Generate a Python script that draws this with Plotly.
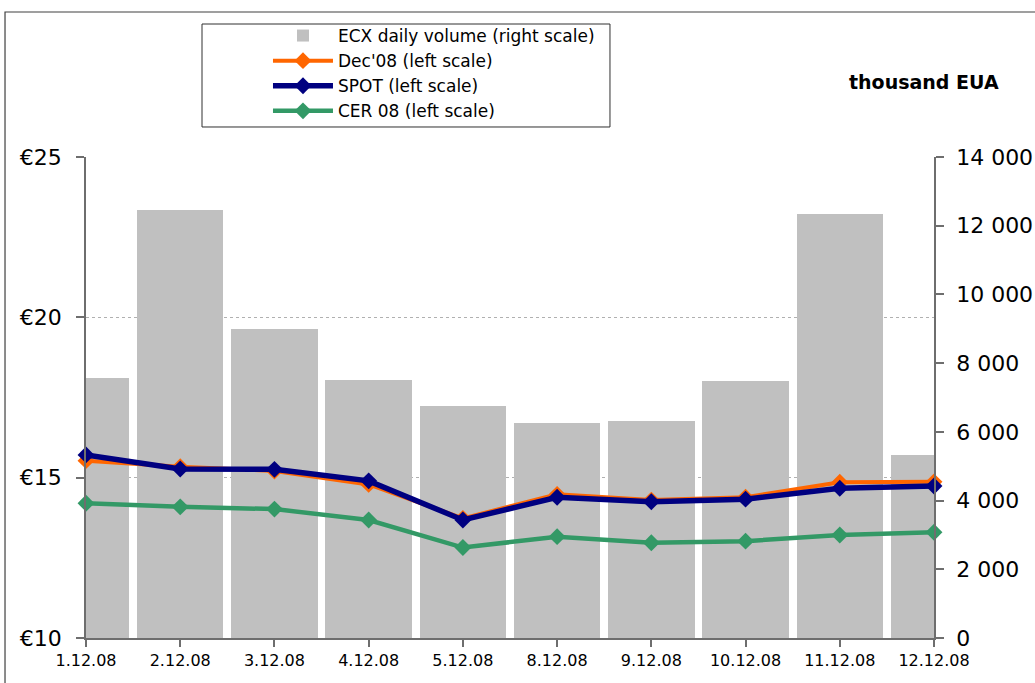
import plotly.graph_objects as go

# Trading days
dates = ["1.12.08", "2.12.08", "3.12.08", "4.12.08", "5.12.08",
         "8.12.08", "9.12.08", "10.12.08", "11.12.08", "12.12.08"]

# ECX daily volume, thousand EUA (right scale)
ecx_volume = [7570, 12450, 8990, 7510, 6750, 6260, 6310, 7480, 12340, 5330]

# Prices, EUR/t (left scale)
dec08 = [15.53, 15.34, 15.21, 14.79, 13.73, 14.48, 14.30, 14.39, 14.86, 14.87]
spot = [15.71, 15.27, 15.26, 14.90, 13.68, 14.39, 14.25, 14.33, 14.67, 14.74]
cer08 = [14.20, 14.09, 14.02, 13.68, 12.82, 13.16, 12.97, 13.02, 13.21, 13.30]

FONT = "DejaVu Sans"
AXIS_COL = "#6e6e6e"

fig = go.Figure()

fig.add_trace(go.Bar(
    x=dates, y=ecx_volume, name="ECX daily volume (right scale)",
    marker=dict(color="#c0c0c0", line=dict(width=0)),
    width=0.917, yaxis="y",
))

line_series = [
    ("Dec'08 (left scale)", dec08, "#ff6600", 4),
    ("SPOT (left scale)", spot, "#000080", 5.5),
    ("CER 08 (left scale)", cer08, "#339966", 4.5),
]
for name, vals, col, w in line_series:
    fig.add_trace(go.Scatter(
        x=dates, y=vals, name=name, mode="lines+markers",
        line=dict(color=col, width=w),
        marker=dict(symbol="diamond", size=13, color=col),
        yaxis="y2", cliponaxis=False,
    ))

fig.update_layout(
    width=1035, height=683,
    margin=dict(l=86, r=101, t=157, b=45, autoexpand=False),
    paper_bgcolor="white", plot_bgcolor="white",
    font=dict(family=FONT, color="black"),
    separators=". ",
    bargap=0,
    showlegend=True,
    legend=dict(
        x=0.2146, y=1.2890, xanchor="left", yanchor="top",
        bgcolor="rgba(0,0,0,0)", borderwidth=0, itemwidth=60,
        font=dict(size=17, family=FONT), traceorder="normal",
    ),
    xaxis=dict(
        type="category", range=[0, 9], automargin=False,
        showline=True, linecolor=AXIS_COL, linewidth=1.5,
        ticks="outside", ticklen=7, tickcolor=AXIS_COL, tickwidth=1.5,
        tickfont=dict(size=16), showgrid=False, zeroline=False,
    ),
    yaxis=dict(
        side="right", range=[0, 14000], dtick=2000, tickformat=",d",
        automargin=False,
        showline=True, linecolor=AXIS_COL, linewidth=1.5,
        ticks="outside", ticklen=8, tickcolor=AXIS_COL, tickwidth=1.5,
        tickfont=dict(size=22), showgrid=False, zeroline=False,
        ticklabelstandoff=8,
    ),
    yaxis2=dict(
        overlaying="y", side="left", range=[10, 25], dtick=5,
        tickprefix="€", automargin=False,
        showline=True, linecolor=AXIS_COL, linewidth=1.5,
        ticks="outside", ticklen=8, tickcolor=AXIS_COL, tickwidth=1.5,
        tickfont=dict(size=22), zeroline=False, ticklabelstandoff=10,
        showgrid=True, gridcolor="#b0b0b0", gridwidth=1, griddash="dot",
    ),
    shapes=[
        # outer chart frame
        dict(type="rect", xref="paper", yref="paper",
             x0=-0.0955, x1=1.25, y0=-0.25, y1=1.3015,
             line=dict(color="#404040", width=1.2), fillcolor="rgba(0,0,0,0)"),
        # legend frame
        dict(type="rect", xref="paper", yref="paper",
             x0=0.1368, x1=0.6179, y0=1.0624, y1=1.2765,
             line=dict(color="#303030", width=1), fillcolor="rgba(0,0,0,0)"),
    ],
    annotations=[
        dict(text="<b>thousand EUA</b>", xref="paper", yref="paper",
             x=0.988, y=1.156, xanchor="center", yanchor="middle",
             showarrow=False, font=dict(size=19, family=FONT)),
    ],
)

fig.write_html("out.html")
